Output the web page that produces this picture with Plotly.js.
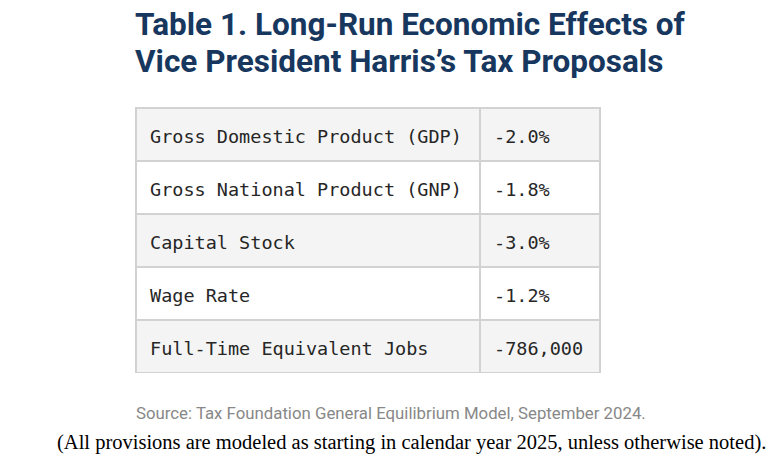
<!DOCTYPE html>
<html><head><meta charset="utf-8">
<script src="https://cdn.plot.ly/plotly-3.0.1.min.js"></script>
<style>html,body{margin:0;padding:0;background:#fff}#c{width:769px;height:462px}</style>
</head><body><div id="c"></div>
<script>
const measures = ["Gross Domestic Product (GDP)", "Gross National Product (GNP)", "Capital Stock", "Wage Rate", "Full-Time Equivalent Jobs"];
const effects = ["-2.0%", "-1.8%", "-3.0%", "-1.2%", "-786,000"];
const rowFills = ["#f4f4f4", "#ffffff", "#f4f4f4", "#ffffff", "#f4f4f4"];

const W = 769, H = 462;
const px = v => v / W, py = v => 1 - v / H;

const cellFont = {family: "DejaVu Sans Mono, monospace", size: 18.5, color: "#262626"};
const cellLine = {color: "#d2d2d2", width: 1.2};

const trace = {
  type: "table",
  domain: {x: [px(136), px(600)], y: [py(373), py(108)]},
  columnwidth: [344, 120],
  header: {
    values: [measures[0], effects[0]],
    align: "left", height: 53, font: cellFont,
    fill: {color: rowFills[0]}, line: cellLine
  },
  cells: {
    values: [measures.slice(1), effects.slice(1)],
    align: "left",
    height: 53,
    font: cellFont,
    fill: {color: [rowFills.slice(1), rowFills.slice(1)]},
    line: cellLine
  }
};

const layout = {
  width: W, height: H,
  margin: {l: 0, r: 0, t: 0, b: 0},
  paper_bgcolor: "#fff",
  showlegend: false,
  annotations: [
    {text: "<b>Table 1. Long-Run Economic Effects of</b>",
     xref: "paper", yref: "paper", x: px(133), y: py(4), xanchor: "left", yanchor: "top",
     showarrow: false, font: {family: "Roboto, Inter, sans-serif", size: 31.5, color: "#17375e"}},
    {text: "<b>Vice President Harris’s Tax Proposals</b>",
     xref: "paper", yref: "paper", x: px(133), y: py(41), xanchor: "left", yanchor: "top",
     showarrow: false, font: {family: "Roboto, Inter, sans-serif", size: 31.5, color: "#17375e"}},
    {text: "Source: Tax Foundation General Equilibrium Model, September 2024.",
     xref: "paper", yref: "paper", x: px(134), y: py(413), xanchor: "left", yanchor: "middle",
     showarrow: false, font: {family: "Roboto, sans-serif", size: 16.8, color: "#888"}},
    {text: "(All provisions are modeled as starting in calendar year 2025, unless otherwise noted).",
     xref: "paper", yref: "paper", x: px(55), y: py(442), xanchor: "left", yanchor: "middle",
     showarrow: false, font: {family: "Liberation Serif, Times New Roman, serif", size: 20.5, color: "#000"}}
  ]
};

Plotly.newPlot("c", [trace], layout, {displayModeBar: false, staticPlot: true}).then(() => {
  // nudge cell text to match the reference's padding / vertical centering
  document.querySelectorAll("#c .table .cell-text").forEach(t => {
    const tr = t.getAttribute("transform") || "";
    t.setAttribute("transform", tr + " translate(6,13)");
  });
});
</script></body></html>
